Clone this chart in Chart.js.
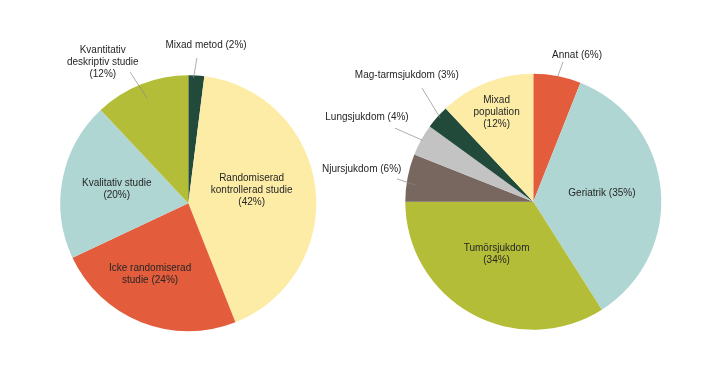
<!DOCTYPE html>
<html>
<head>
<meta charset="utf-8">
<script src="https://cdn.jsdelivr.net/npm/chart.js@4/dist/chart.umd.min.js"></script>
<style>
  html, body { margin: 0; padding: 0; background: #ffffff; }
  #wrap { position: relative; width: 720px; height: 380px; }
  .box { position: absolute; top: 0; height: 380px; }
</style>
</head>
<body>
<div id="wrap">
  <div class="box" style="left:0;width:360px"><canvas id="c1" width="360" height="380"></canvas></div>
  <div class="box" style="left:300px;width:420px"><canvas id="c2" width="420" height="380"></canvas></div>
</div>
<script>
// ---- Data ----
const leftCategories = ["Mixad metod", "Randomiserad\nkontrollerad studie", "Icke randomiserad\nstudie", "Kvalitativ studie", "Kvantitativ\ndeskriptiv studie"];
const leftValues = [2, 42, 24, 20, 12];
const rightCategories = ["Annat", "Geriatrik", "Tumörsjukdom", "Njursjukdom", "Lungsjukdom", "Mag-tarmsjukdom", "Mixad\npopulation"];
const rightValues = [6, 35, 34, 6, 4, 3, 12];

// ---- Styles ----
const leftColors = ["#224a3b", "#fdeca6", "#e35d3d", "#afd6d3", "#b4bd37"];
const rightColors = ["#e35d3d", "#afd6d3", "#b4bd37", "#77675f", "#c3c3c3", "#224a3b", "#fdeca6"];

// label layout: angle offset from slice middle (deg), radius factor; outside labels have leader lines
const leftLayout = [
  { out: true, pctNewLine: false, s: [-1.2, 0.98], e: [-0.2, 1.137], l: [2.8, 1.245] },
  { out: false, pctNewLine: true, l: [-4.8, 0.506] },
  { out: false, pctNewLine: false, l: [6.7, 0.63] },
  { out: false, pctNewLine: true, l: [0.5, 0.57] },
  { out: true, pctNewLine: true, s: [0.2, 0.88], e: [-2.3, 1.12], l: [-9.6, 1.29] }
];
const rightLayout = [
  { out: true, pctNewLine: false, s: [0.2, 0.99], e: [1.2, 1.116], l: [5.8, 1.196] },
  { out: false, pctNewLine: false, l: [-1.6, 0.54] },
  { out: false, pctNewLine: true, l: [6.2, 0.50] },
  { out: true, pctNewLine: false, s: [-2.8, 0.93], e: [-1.3, 1.08], l: [0, 1.365] },
  { out: true, pctNewLine: false, s: [0.2, 0.99], e: [-0.8, 1.224], l: [-1.9, 1.457] },
  { out: true, pctNewLine: false, s: [0.6, 0.98], e: [4.2, 1.243], l: [3.7, 1.40] },
  { out: false, pctNewLine: true, l: [-0.7, 0.755] }
];

const FONT = '10px "Liberation Sans", Arial, sans-serif';
const LINE_H = 12;

const labelPlugin = {
  id: 'sliceLabels',
  afterDatasetsDraw(chart, args, opts) {
    const ctx = chart.ctx;
    const meta = chart.getDatasetMeta(0);
    const cats = chart.data.labels;
    const vals = chart.data.datasets[0].data;
    const layout = opts.layout;
    ctx.save();
    ctx.font = FONT;
    ctx.fillStyle = '#262626';
    ctx.textAlign = 'center';
    ctx.textBaseline = 'middle';
    meta.data.forEach((arc, i) => {
      const p = arc.getProps(['x', 'y', 'startAngle', 'endAngle', 'outerRadius'], true);
      const mid = (p.startAngle + p.endAngle) / 2;
      const pt = (spec) => {
        const a = mid + spec[0] * Math.PI / 180;
        const r = spec[1] * p.outerRadius;
        return [p.x + Math.cos(a) * r, p.y + Math.sin(a) * r];
      };
      const L = layout[i];
      let lines = cats[i].split('\n');
      const pct = '(' + vals[i] + '%)';
      if (L.pctNewLine) lines.push(pct); else lines[lines.length - 1] += ' ' + pct;
      if (L.out) {
        const s = pt(L.s), e = pt(L.e);
        ctx.strokeStyle = '#8a8a8a';
        ctx.lineWidth = 0.7;
        ctx.beginPath();
        ctx.moveTo(s[0], s[1]);
        ctx.lineTo(e[0], e[1]);
        ctx.stroke();
      }
      const c = pt(L.l);
      const y0 = c[1] - (lines.length - 1) * LINE_H / 2;
      lines.forEach((t, k) => ctx.fillText(t, c[0], y0 + k * LINE_H));
    });
    ctx.restore();
  }
};

function makePie(id, cats, vals, colors, layout, pad) {
  new Chart(document.getElementById(id), {
    type: 'pie',
    data: {
      labels: cats,
      datasets: [{ data: vals, backgroundColor: colors, borderWidth: 0 }]
    },
    options: {
      responsive: false,
      animation: false,
      devicePixelRatio: 1,
      layout: { padding: pad },
      plugins: {
        legend: { display: false },
        tooltip: { enabled: false },
        sliceLabels: { layout: layout }
      }
    },
    plugins: [labelPlugin]
  });
}

makePie('c1', leftCategories, leftValues, leftColors, leftLayout, { left: 60.3, right: 43.7, top: 75.3, bottom: 48.7 });
makePie('c2', rightCategories, rightValues, rightColors, rightLayout, { left: 105.3, right: 58.7, top: 73.7, bottom: 50.3 });
</script>
</body>
</html>
